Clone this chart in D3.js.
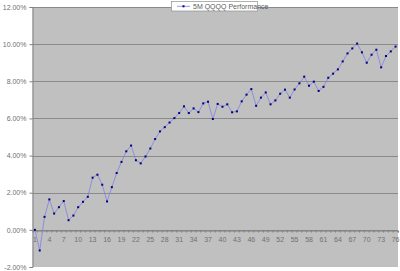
<!DOCTYPE html>
<html><head><meta charset="utf-8">
<script src="https://cdn.jsdelivr.net/npm/d3@7"></script>
<style>html,body{margin:0;padding:0;background:#fff;}svg{display:block;}</style>
</head><body>
<script>
const categories = d3.range(1, 77);
const seriesName = "5M QQQQ Performance";
const values = [0.00,-1.11,0.70,1.64,0.88,1.22,1.55,0.52,0.77,1.22,
1.51,1.78,2.81,2.97,2.43,1.53,2.30,3.06,3.66,4.23,
4.54,3.75,3.58,3.95,4.38,4.89,5.30,5.53,5.78,6.02,
6.29,6.65,6.29,6.54,6.34,6.81,6.90,5.97,6.78,6.63,
6.76,6.33,6.38,6.92,7.28,7.58,6.68,7.12,7.40,6.76,
6.97,7.33,7.55,7.12,7.56,7.89,8.25,7.76,7.98,7.48,
7.70,8.19,8.41,8.64,9.07,9.50,9.77,10.03,9.56,9.00,
9.43,9.70,8.75,9.36,9.61,9.87];
const yTicks = [-2,0,2,4,6,8,10,12];
const xLabelEvery = 3;

const W = 400, H = 271;
const L = 32.5, R = 398, T = 7, B = 267;
const svg = d3.select("body").append("svg").attr("width", W).attr("height", H);
const font = "Liberation Sans, Arial, sans-serif";

const x = d3.scaleBand().domain(categories).range([L, R]).paddingInner(0).paddingOuter(0);
const cx = d => x(d) + x.bandwidth()/2;
const y = d3.scaleLinear().domain([-2, 12]).range([B, T]);

svg.append("rect").attr("x", L).attr("y", T).attr("width", R-L).attr("height", B-T).attr("fill", "#c0c0c0");

// gridlines
svg.append("g").selectAll("line").data(yTicks.filter(t => t > -2)).join("line")
  .attr("x1", L).attr("x2", R).attr("y1", d => Math.round(y(d))+0.5).attr("y2", d => Math.round(y(d))+0.5)
  .attr("stroke", "#8a8a8a").attr("stroke-width", 1);

// y axis
const yAxis = d3.axisLeft(y).tickValues(yTicks).tickSize(3).tickFormat(d => d.toFixed(2) + "%");
const gy = svg.append("g").attr("transform", `translate(${L},0)`).call(yAxis);
gy.select(".domain").attr("stroke", "#808080");
gy.selectAll(".tick line").attr("stroke", "#808080");
gy.selectAll(".tick text").attr("font-family", font).attr("font-size", 7).attr("fill", "#707070").attr("x", -6);

// x axis at zero
const xAxis = d3.axisBottom(x).tickValues(categories).tickSize(2)
  .tickFormat(d => ((d-1) % xLabelEvery === 0) ? d : "");
const gx = svg.append("g").attr("transform", `translate(0,${Math.round(y(0))+0.5})`).call(xAxis);
gx.select(".domain").attr("stroke", "#808080");
gx.selectAll(".tick line").attr("stroke", "#808080").attr("transform", `translate(${x.bandwidth()/2},0)`);
gx.selectAll(".tick text").attr("font-family", font).attr("font-size", 7).attr("fill", "#707070").attr("dy", "0.71em").attr("y", 7);

// line
const line = d3.line().x((d,i) => cx(categories[i])).y(d => y(d));
svg.append("path").datum(values).attr("d", line).attr("fill", "none").attr("stroke", "#8080e0").attr("stroke-width", 0.8);
svg.append("g").selectAll("rect").data(values).join("rect")
  .attr("x", (d,i) => cx(categories[i]) - 1).attr("y", d => y(d) - 1)
  .attr("width", 2).attr("height", 2).attr("fill", "#000080");

// legend
const lg = svg.append("g");
lg.append("rect").attr("x", 171.5).attr("y", 1.5).attr("width", 86).attr("height", 9.5).attr("fill", "#fff").attr("stroke", "#909090").attr("stroke-width", 0.7);
lg.append("line").attr("x1", 177).attr("x2", 190).attr("y1", 6.3).attr("y2", 6.3).attr("stroke", "#8080e0").attr("stroke-width", 0.8);
lg.append("rect").attr("x", 182.5).attr("y", 5.3).attr("width", 2).attr("height", 2).attr("fill", "#000080");
lg.append("text").attr("x", 193).attr("y", 8.7).attr("font-family", font).attr("font-size", 7).attr("fill", "#606060").text(seriesName);
</script>
</body></html>
